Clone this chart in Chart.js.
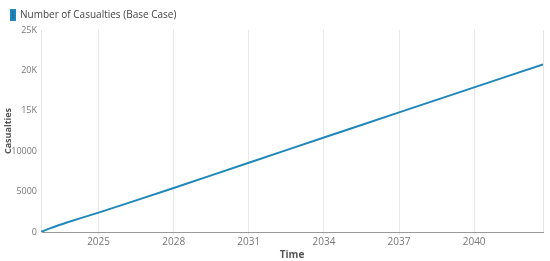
<!DOCTYPE html>
<html>
<head>
<meta charset="utf-8">
<script src="https://cdn.jsdelivr.net/npm/chart.js@4.4.0/dist/chart.umd.min.js"></script>
<style>
	html, body { margin: 0; padding: 0; background: #fff; }
	#wrap { width: 550px; height: 261px; }
</style>
</head>
<body>
<div id="wrap"><canvas id="lineChart" width="550" height="261"></canvas></div>
<script>
const seriesName = 'Number of Casualties (Base Case)';
const years = [2022.7, 2023.0, 2023.7, 2025, 2028, 2031, 2034, 2037, 2040, 2042.75];
const casualties = [0, 380, 1150, 2400, 5450, 8570, 11700, 14800, 17900, 20750];
const xTicks = [2025, 2028, 2031, 2034, 2037, 2040];
const yTicks = [0, 5000, 10000, 15000, 20000, 25000];
const yTickLabels = ['0', '5000', '10000', '15K', '20K', '25K'];

const points = [];
years.map((year, i) => {
	points.push({ x: year, y: casualties[i] });
});

// right edge line of the plot
const rightEdge = {
	id: 'rightEdge',
	beforeDatasetsDraw(chart) {
		const a = chart.chartArea;
		const ctx = chart.ctx;
		ctx.save();
		ctx.strokeStyle = '#e4e4e4';
		ctx.lineWidth = 1;
		ctx.beginPath();
		ctx.moveTo(Math.round(a.right) + 0.5, a.top);
		ctx.lineTo(Math.round(a.right) + 0.5, a.bottom);
		ctx.stroke();
		ctx.restore();
	},
};

Chart.defaults.font.family = '"Open Sans", "Noto Sans", sans-serif';
Chart.defaults.font.size = 9;
Chart.defaults.color = '#777';

const config = {
	type: 'line',
	data: {
		datasets: [
			{
				label: seriesName,
				data: points,
				borderColor: '#1f87b9',
				backgroundColor: '#1b74a8',
				borderWidth: 2,
				pointRadius: 0,
				tension: 0.2,
				fill: false,
			},
		],
	},
	options: {
		responsive: false,
		animation: false,
		layout: { padding: { left: 3, right: 7, top: 2, bottom: 0 } },
		plugins: {
			legend: {
				position: 'top',
				align: 'start',
				labels: {
					boxWidth: 4,
					boxHeight: 10,
					padding: 8,
					color: '#444',
					font: { size: 10 },
				},
			},
			tooltip: { enabled: false },
		},
		scales: {
			x: {
				type: 'linear',
				min: years[0],
				max: years[years.length - 1],
				afterBuildTicks: (scale) => {
					scale.ticks = xTicks.map((v) => ({ value: v }));
				},
				ticks: {
					autoSkip: false,
					maxRotation: 0,
					color: '#777',
					padding: 1,
					font: { size: 10 },
					callback: (v) => String(v),
				},
				grid: { color: '#e8e8e8', drawTicks: true, tickLength: 3 },
				border: { color: '#9a9a9a', width: 1 },
				title: {
					display: true,
					text: 'Time',
					color: '#555',
					font: { size: 10, weight: 'bold' },
					padding: { top: 0, bottom: 0 },
				},
			},
			y: {
				min: 0,
				max: 25000,
				afterBuildTicks: (scale) => {
					scale.ticks = yTicks.map((v) => ({ value: v }));
				},
				afterFit: (scale) => {
					scale.width = 38;
				},
				ticks: {
					color: '#777',
					padding: 4,
					font: { size: 9 },
					callback: (v) => yTickLabels[yTicks.indexOf(v)],
				},
				grid: { display: false, drawTicks: false, tickLength: 0 },
				border: { color: '#e4e4e4', width: 1 },
				title: {
					display: true,
					text: 'Casualties',
					color: '#555',
					font: { size: 9, weight: 'bold' },
					padding: { top: 0, bottom: 0 },
				},
			},
		},
	},
	plugins: [rightEdge],
};

const ctx = document.getElementById('lineChart').getContext('2d');
const myChart = new Chart(ctx, config);
</script>
</body>
</html>
